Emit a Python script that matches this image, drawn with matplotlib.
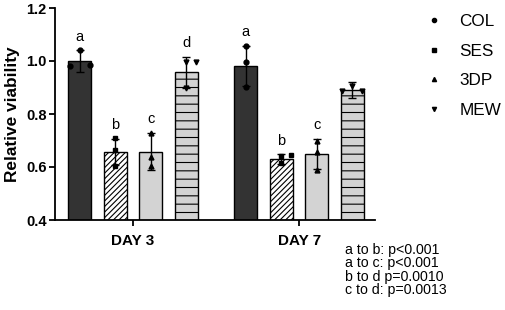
import matplotlib
matplotlib.use("Agg")
import matplotlib.pyplot as plt
from matplotlib.lines import Line2D
import numpy as np

plt.rcParams['font.family'] = ['Liberation Sans', 'DejaVu Sans']
plt.rcParams['hatch.linewidth'] = 0.8

# ---- data ----
days = ['DAY 3', 'DAY 7']
materials = ['COL', 'SES', '3DP', 'MEW']
means = {
    'COL': [1.000, 0.982],
    'SES': [0.657, 0.630],
    '3DP': [0.658, 0.649],
    'MEW': [0.958, 0.890],
}
sds = {
    'COL': [0.040, 0.075],
    'SES': [0.050, 0.018],
    '3DP': [0.070, 0.058],
    'MEW': [0.058, 0.030],
}
points = {
    'COL': [[0.980, 1.040, 0.985], [1.057, 0.997, 0.903]],
    'SES': [[0.709, 0.664, 0.604], [0.642, 0.615, 0.645]],
    '3DP': [[0.730, 0.639, 0.604], [0.700, 0.658, 0.590]],
    'MEW': [[0.996, 0.996, 0.898], [0.888, 0.888, 0.905]],
}
letters = {
    'COL': ['a', 'a'],
    'SES': ['b', 'b'],
    '3DP': ['c', 'c'],
    'MEW': ['d', ''],
}
yticks = [0.4, 0.6, 0.8, 1.0, 1.2]
stats_text = ["a to b: p<0.001", "a to c: p<0.001", "b to d p=0.0010", "c to d: p=0.0013"]

# ---- style ----
face = {'COL': '#333333', 'SES': 'white', '3DP': '#d3d3d3', 'MEW': '#d3d3d3'}
hatch = {'COL': None, 'SES': '//////', '3DP': None, 'MEW': '--'}
marker = {'COL': 'o', 'SES': 's', '3DP': '^', 'MEW': 'v'}
jitter = {
    'COL': [[-0.28, 0.0, 0.28], [0.0, 0.0, 0.0]],
    'SES': [[0.0, 0.0, 0.0], [0.0, 0.0, 0.28]],
    '3DP': [[0.0, 0.0, 0.0], [0.0, 0.0, 0.0]],
    'MEW': [[0.0, 0.28, 0.0], [-0.28, 0.28, 0.0]],
}
group_x = np.array([0.0, 4.68])
offsets = [-1.5, -0.5, 0.5, 1.5]
width = 0.65

fig = plt.figure(figsize=(5.05, 3.10), dpi=100)
ax = fig.add_axes([55/505, 1-220/310, (375-55)/505, (220-8)/310])

for i, m in enumerate(materials):
    xs = group_x + offsets[i]
    ax.bar(xs, means[m], width=width, color=face[m], edgecolor='black',
           linewidth=1.0, hatch=hatch[m], zorder=2)
    ax.errorbar(xs, means[m], yerr=sds[m], fmt='none', ecolor='black',
                elinewidth=1.0, capsize=3, capthick=1.0, zorder=3)
    for g in range(2):
        px = xs[g] + np.array(jitter[m][g])
        ax.plot(px, points[m][g], linestyle='none', marker=marker[m],
                color='black', markersize=3.5, zorder=4)
        if letters[m][g]:
            top = means[m][g] + sds[m][g]
            ax.text(xs[g], top + 0.025, letters[m][g], ha='center', va='bottom',
                    fontsize=10.5)

ax.set_ylim(0.4, 1.2)
ax.set_xlim(-2.2, 6.82)
ax.set_yticks(yticks)
ax.set_yticklabels([f"{t:.1f}" for t in yticks], fontsize=10.5, fontweight='bold')
ax.set_xticks(group_x)
ax.set_xticklabels(days, fontsize=11, fontweight='bold')
ax.set_ylabel('Relative viability', fontsize=12.4, fontweight='bold', labelpad=4)
for s in ['top', 'right']:
    ax.spines[s].set_visible(False)
for s in ['left', 'bottom']:
    ax.spines[s].set_linewidth(1.3)
ax.tick_params(axis='both', width=1.3, length=4, pad=2)
ax.tick_params(axis='x', pad=6)

handles = [Line2D([], [], linestyle='none', marker=marker[m], color='black', markersize=3)
           for m in materials]
fig.legend(handles, materials, loc='upper left', bbox_to_anchor=(425/505, 1-14/310),
           frameon=False, fontsize=12.3, handlelength=1.0, handletextpad=1.0,
           labelspacing=0.85, borderpad=0, borderaxespad=0)

fig.text(345/505, 1-243/310, "\n".join(stats_text), ha='left', va='top',
         fontsize=10.2, linespacing=0.95)

fig.savefig('out.png', dpi=100)
